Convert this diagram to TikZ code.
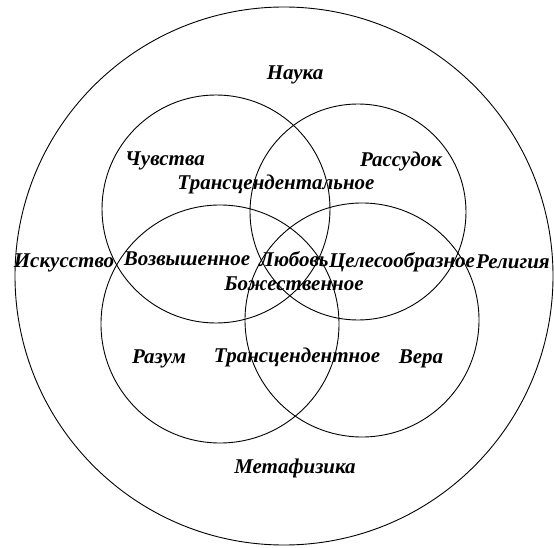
\documentclass[tikz,border=0pt]{standalone}
\usepackage{fontspec}
\setmainfont{Liberation Serif}
\tikzset{
  word/.style={font=\bfseries\itshape\fontsize{21}{23}\selectfont, inner sep=0pt},
  ring/.style={line width=0.9pt}
}
\begin{document}
\begin{tikzpicture}[x=1pt,y=-1pt]
  \useasboundingbox (0,0) rectangle (554,548);
  % outer circle and the four inner ones
  \draw[ring] (284,276) circle (269);
  \draw[ring] (216,209) circle (114);
  \draw[ring] (358,212) circle (108);
  \draw[ring] (220,324) circle (119);
  \draw[ring] (362,320) circle (117);
  % words
  \node[word] (nauka) at (295,75) {Наука};
  \node[word] (chuvstva) at (165,161) {Чувства};
  \node[word] (rassudok) at (401,161) {Рассудок};
  \node[word] (transcal) at (276,184) {Трансцендентальное};
  \node[word] (iskusstvo) at (64,263) {Искусство};
  \node[word] (vozvysh) at (187,259) {Возвышенное};
  \node[word] (lyubov) at (294,259) {Любовь};
  \node[word] (celesoobr) at (402,262) {Целесообразное};
  \node[word] (religiya) at (513,262) {Религия};
  \node[word] (bozhestv) at (294,284) {Божественное};
  \node[word] (razum) at (159,359) {Разум};
  \node[word] (transcnt) at (297,357) {Трансцендентное};
  \node[word] (vera) at (421,359) {Вера};
  \node[word] (metafiz) at (295,468) {Метафизика};
\end{tikzpicture}
\end{document}
